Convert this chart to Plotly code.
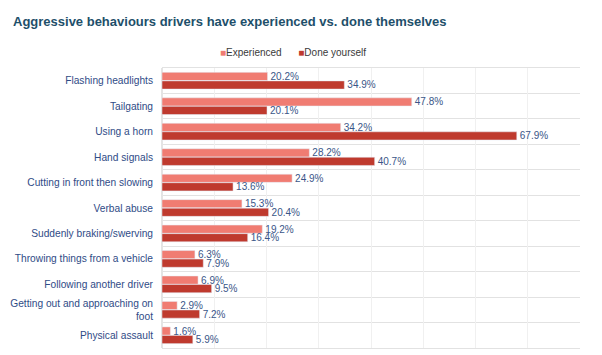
import plotly.graph_objects as go

categories = [
    "Flashing headlights",
    "Tailgating",
    "Using a horn",
    "Hand signals",
    "Cutting in front then slowing",
    "Verbal abuse",
    "Suddenly braking/swerving",
    "Throwing things from a vehicle",
    "Following another driver",
    "Getting out and approaching on<br>foot",
    "Physical assault",
]
experienced = [20.2, 47.8, 34.2, 28.2, 24.9, 15.3, 19.2, 6.3, 6.9, 2.9, 1.6]
done_yourself = [34.9, 20.1, 67.9, 40.7, 13.6, 20.4, 16.4, 7.9, 9.5, 7.2, 5.9]
series_names = ["Experienced", "Done yourself"]
series_colors = ["#F07C72", "#BF3A2E"]
title_text = "Aggressive behaviours drivers have experienced vs. done themselves"

FONT = "Liberation Sans, Arial, sans-serif"
LABEL_COLOR = "#2F4B86"
VALUE_COLOR = "#3A5688"

ypos = list(range(len(categories)))

fig = go.Figure()
for name, color, vals in zip(series_names, series_colors, [experienced, done_yourself]):
    fig.add_trace(go.Bar(
        y=ypos, x=vals, orientation="h", name=name,
        marker_color=color,
        text=[f"{v:.1f}%" for v in vals], textposition="outside",
        textfont=dict(size=10, color=VALUE_COLOR, family=FONT),
        constraintext="none", cliponaxis=False,
    ))

legend_text = "      ".join(
    f"<span style='color:{c}'>■</span>{n}" for n, c in zip(series_names, series_colors)
)
fig.add_annotation(
    text=legend_text, xref="paper", yref="paper", x=0.313, y=1.054,
    xanchor="center", yanchor="middle", showarrow=False,
    font=dict(size=10, color="#3A3A3A", family=FONT),
)

fig.update_layout(
    width=602, height=355,
    margin=dict(l=162, r=22, t=68, b=7),
    paper_bgcolor="white", plot_bgcolor="white",
    font=dict(family=FONT, color=LABEL_COLOR, size=11),
    barmode="group", bargap=0.33, bargroupgap=0.04,
    title=dict(text=f"<b>{title_text}</b>", x=13/602, xanchor="left",
               xref="container", y=1-21/355, yanchor="middle", yref="container",
               font=dict(size=13, color="#1E4F6A", family=FONT)),
    showlegend=False,
)
fig.update_xaxes(range=[0, 80], dtick=10, showticklabels=False, showgrid=True,
                 gridcolor="#F0F0F0", gridwidth=1, zeroline=True, zerolinecolor="#E4E4E4",
                 showline=True, linecolor="#E2E2E2", linewidth=1, mirror=True,
                 fixedrange=True, automargin=False)
fig.update_yaxes(range=[10.5, -0.5], tickvals=ypos, ticktext=categories,
                 showgrid=False, zeroline=False, ticks="", ticklabelstandoff=8,
                 tickfont=dict(size=10.2, color=LABEL_COLOR, family=FONT),
                 minor=dict(tick0=0.5, dtick=1, showgrid=True, gridcolor="#E2E2E2", gridwidth=1),
                 showline=False, fixedrange=True, automargin=False)

fig.write_html("out.html", config={"displayModeBar": False},
               post_script="document.body.style.margin='0';")
